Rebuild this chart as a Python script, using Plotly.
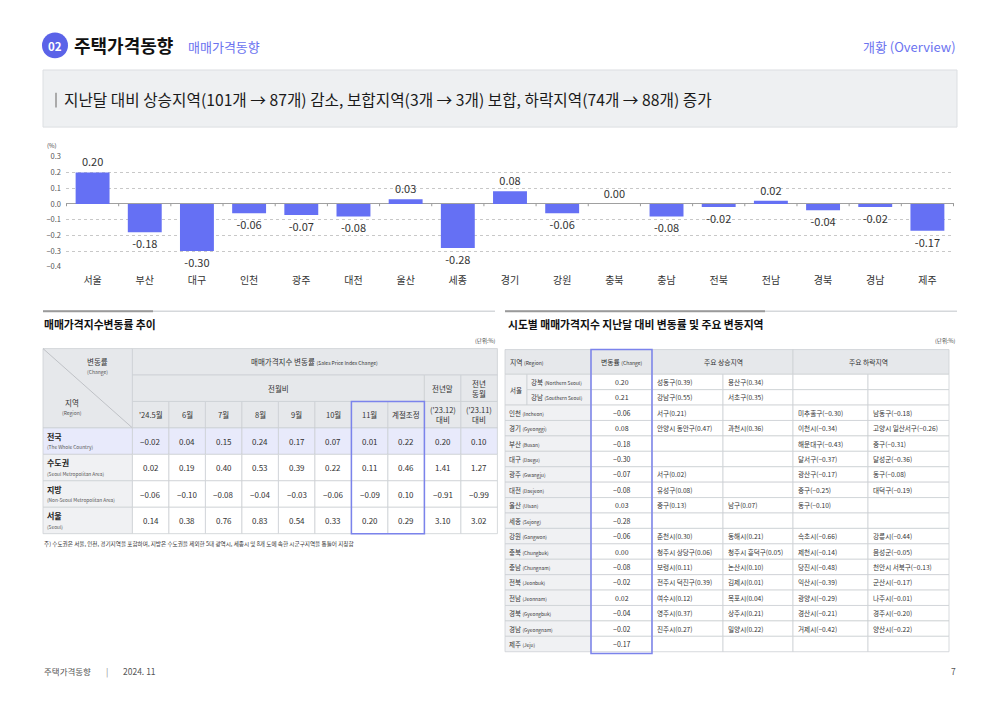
import plotly.graph_objects as go

W, H = 1000, 707
FONT = "Noto Sans CJK KR"
BAR = "#6570F4"
PURPLE = "#5B63E8"
HILITE = "#7B83EC"
GRID_LINE = "#CDD0D4"
HEAD_FILL = "#E6E8EB"
REG_FILL = "#F0F1F3"
NAT_FILL = "#E8EAFB"
TXT = "#333333"

# ---------------- data ----------------
bar_regions = ['서울', '부산', '대구', '인천', '광주', '대전', '울산', '세종', '경기',
               '강원', '충북', '충남', '전북', '전남', '경북', '경남', '제주']
bar_values = [0.20, -0.18, -0.30, -0.06, -0.07, -0.08, 0.03, -0.28, 0.08,
              -0.06, 0.00, -0.08, -0.02, 0.02, -0.04, -0.02, -0.17]
y_ticks = [0.3, 0.2, 0.1, 0.0, -0.1, -0.2, -0.3, -0.4]

months = ["'24.5월", '6월', '7월', '8월', '9월', '10월', '11월', '계절조정',
          "('23.12)<br>대비", "('23.11)<br>대비"]
trend_regions = ['전국', '수도권', '지방', '서울']
trend_regions_en = ['(The Whole Country)', '(Seoul Metropolitan Area)',
                    '(Non-Seoul Metropolitan Area)', '(Seoul)']
trend_whole = [-0.02, 0.04, 0.15, 0.24, 0.17, 0.07, 0.01, 0.22, 0.20, 0.10]
trend_capital = [0.02, 0.19, 0.40, 0.53, 0.39, 0.22, 0.11, 0.46, 1.41, 1.27]
trend_nonseoul = [-0.06, -0.10, -0.08, -0.04, -0.03, -0.06, -0.09, 0.10, -0.91, -0.99]
trend_seoul = [0.14, 0.38, 0.76, 0.83, 0.54, 0.33, 0.20, 0.29, 3.10, 3.02]

sido_regions = ['강북', '강남', '인천', '경기', '부산', '대구', '광주', '대전', '울산', '세종',
                '강원', '충북', '충남', '전북', '전남', '경북', '경남', '제주']
sido_en = ['Northern Seoul', 'Southern Seoul', 'Incheon', 'Gyeonggi', 'Busan', 'Daegu',
           'Gwangju', 'Daejeon', 'Ulsan', 'Sejong', 'Gangwon', 'Chungbuk', 'Chungnam',
           'Jeonbuk', 'Jeonnam', 'Gyeongbuk', 'Gyeongnam', 'Jeju']
sido_change = [0.20, 0.21, -0.06, 0.08, -0.18, -0.30, -0.07, -0.08, 0.03, -0.28,
               -0.06, 0.00, -0.08, -0.02, 0.02, -0.04, -0.02, -0.17]
rise_1 = ['성동구(0.39)', '강남구(0.55)', '서구(0.21)', '안양시 동안구(0.47)', '', '',
          '서구(0.02)', '유성구(0.08)', '중구(0.13)', '', '춘천시(0.30)', '청주시 상당구(0.06)',
          '보령시(0.11)', '전주시 덕진구(0.39)', '여수시(0.12)', '영주시(0.37)', '진주시(0.27)', '']
rise_2 = ['용산구(0.34)', '서초구(0.35)', '', '과천시(0.36)', '', '', '', '', '남구(0.07)', '',
          '동해시(0.21)', '청주시 흥덕구(0.05)', '논산시(0.10)', '김제시(0.01)', '목포시(0.04)',
          '상주시(0.21)', '밀양시(0.22)', '']
fall_1 = ['', '', '미추홀구(−0.30)', '이천시(−0.34)', '해운대구(−0.43)', '달서구(−0.37)',
          '광산구(−0.17)', '중구(−0.25)', '동구(−0.10)', '', '속초시(−0.66)', '제천시(−0.14)',
          '당진시(−0.48)', '익산시(−0.39)', '광양시(−0.29)', '경산시(−0.21)', '거제시(−0.42)', '']
fall_2 = ['', '', '남동구(−0.18)', '고양시 일산서구(−0.26)', '중구(−0.31)', '달성군(−0.36)',
          '동구(−0.08)', '대덕구(−0.19)', '', '', '강릉시(−0.44)', '음성군(−0.05)',
          '천안시 서북구(−0.13)', '군산시(−0.17)', '나주시(−0.01)', '경주시(−0.20)', '양산시(−0.22)', '']


def fmt(v):
    return f"{v:.2f}".replace('-', '−')


def px(x):
    return x / W


def py(y):
    return 1 - y / H


shapes = []
ann = []


def text(t, x, y, size=8, color=TXT, xanchor='center', xref='paper', yref='paper', bold=False):
    if bold:
        t = f"<b>{t}</b>"
    ann.append(dict(text=t, x=x, y=y, xref=xref, yref=yref, showarrow=False,
                    xanchor=xanchor, yanchor='middle', align=xanchor if xanchor != 'center' else 'center',
                    borderpad=0, font=dict(size=size, color=color, family=FONT)))


def ptext(t, x, y, **kw):
    text(t, px(x), py(y), **kw)


def rect(x0, x1, y0, y1, fill, xref='paper', yref='paper', line=GRID_LINE, lw=0.8):
    shapes.append(dict(type='rect', xref=xref, yref=yref, x0=x0, x1=x1, y0=y0, y1=y1,
                       fillcolor=fill, line=dict(color=line, width=lw), layer='above'))


def pline(x0, y0, x1, y1, color, width):
    shapes.append(dict(type='line', xref='paper', yref='paper', x0=px(x0), x1=px(x1),
                       y0=py(y0), y1=py(y1), line=dict(color=color, width=width), layer='above'))


fig = go.Figure()

# ---------------- header ----------------
shapes.append(dict(type='circle', xref='paper', yref='paper', x0=px(42), x1=px(68),
                   y0=py(53), y1=py(27), fillcolor=PURPLE, line=dict(width=0)))
ptext('<b>02</b>', 55, 40.5, size=11.5, color='white')
ptext('주택가격동향', 73, 40, size=18, color='#111111', xanchor='left', bold=True)
ptext('매매가격동향', 187, 41, size=13, color='#6B73F0', xanchor='left')
ptext('개황 (Overview)', 957, 41, size=13, color='#6B73F0', xanchor='right')

rect(px(43), px(957), py(123), py(65), '#EEF0F2', line='#DCDFE2', lw=1)
pline(56, 88, 56, 103, '#AAAAAA', 2)
ptext('지난달 대비 상승지역(101개 → 87개) 감소, 보합지역(3개 → 3개) 보합, 하락지역(74개 → 88개) 증가',
      63, 95, size=15.7, color='#1A1A1A', xanchor='left')

# ---------------- bar chart ----------------
fig.add_trace(go.Bar(x=bar_regions, y=bar_values, marker=dict(color=BAR, line=dict(width=0)),
                     width=0.65, texttemplate='%{y:.2f}', textposition='outside',
                     textfont=dict(size=11, color=TXT, family=FONT), cliponaxis=False,
                     constraintext='none', hoverinfo='skip', xaxis='x', yaxis='y'))
for i in range(len(bar_regions) + 1):
    shapes.append(dict(type='line', xref='x', yref='y', x0=i - 0.5, x1=i - 0.5, y0=0, y1=-0.015,
                       line=dict(color='#999999', width=1), layer='above'))
ptext('(%)', 52, 142, size=6, color='#444444')

# ---------------- section titles ----------------
pline(43, 310, 495, 310, '#D5D8DB', 1.5)
pline(43, 310, 153, 310, '#9A9A9A', 2)
pline(505, 310, 957, 310, '#D5D8DB', 1.5)
pline(505, 310, 765, 310, '#9A9A9A', 2)
ptext('매매가격지수변동률 추이', 43, 323, size=10.8, color='#111111', xanchor='left', bold=True)
ptext('시도별 매매가격지수 지난달 대비 변동률 및 주요 변동지역', 507, 323, size=10.8,
      color='#111111', xanchor='left', bold=True)
ptext('(단위:%)', 497, 340, size=5.5, color='#444444', xanchor='right')
ptext('(단위:%)', 957, 340, size=5.5, color='#444444', xanchor='right')

# ---------------- left table (axes x2/y2, units = columns/rows) ----------------
LX, LY = 'x2', 'y2'
lab_w = 2.45
col_edges = [lab_w + j for j in range(len(months) + 1)]
n_hdr = 3
trend_rows = [trend_whole, trend_capital, trend_nonseoul, trend_seoul]
lt_px_unit_x, lt_px_unit_y = 36.5, 26.86
lt_x0, lt_y0 = 43, 348
lt_xr = [-0.1, col_edges[-1] + 0.1]
lt_yr = [n_hdr + len(trend_rows) + 0.1, -0.1]


def lrect(x0, x1, y0, y1, fill, **kw):
    rect(x0, x1, y0, y1, fill, xref=LX, yref=LY, **kw)


def ltext(t, x, y, **kw):
    text(t, x, y, xref=LX, yref=LY, **kw)


lrect(0, lab_w, 0, n_hdr, HEAD_FILL)
shapes.append(dict(type='line', xref=LX, yref=LY, x0=0, y0=0, x1=lab_w, y1=n_hdr,
                   line=dict(color='#B5B8BC', width=0.8), layer='above'))
ltext('변동률', 1.5, 0.5, size=7.5)
ltext('(Change)', 1.5, 0.88, size=5, color='#555555')
ltext('지역', 0.8, 2.05, size=7.5)
ltext('(Region)', 0.8, 2.45, size=5, color='#555555')

lrect(col_edges[0], col_edges[-1], 0, 1, HEAD_FILL)
ltext("매매가격지수 변동률 <span style='font-size:5px'>(Sales Price Index Change)</span>",
      (col_edges[0] + col_edges[-1]) / 2, 0.5, size=7.5)
lrect(col_edges[0], col_edges[8], 1, 2, HEAD_FILL)
ltext('전월비', (col_edges[0] + col_edges[8]) / 2, 1.5, size=7.5)
lrect(col_edges[8], col_edges[9], 1, 2, HEAD_FILL)
ltext('전년말', (col_edges[8] + col_edges[9]) / 2, 1.5, size=7.5)
lrect(col_edges[9], col_edges[10], 1, 2, HEAD_FILL)
ltext('전년<br>동월', (col_edges[9] + col_edges[10]) / 2, 1.5, size=7.5)
for j, m in enumerate(months):
    lrect(col_edges[j], col_edges[j + 1], 2, 3, HEAD_FILL)
    ltext(m, (col_edges[j] + col_edges[j + 1]) / 2, 2.5, size=7.5)

for i, (reg, en, vals) in enumerate(zip(trend_regions, trend_regions_en, trend_rows)):
    r0 = n_hdr + i
    lrect(0, lab_w, r0, r0 + 1, NAT_FILL if i == 0 else REG_FILL)
    ltext(reg, 0.08, r0 + 0.32, size=8, xanchor='left', bold=True, color='#222222')
    ltext(en, 0.08, r0 + 0.74, size=4.8, xanchor='left', color='#555555')
    for j, v in enumerate(vals):
        lrect(col_edges[j], col_edges[j + 1], r0, r0 + 1, NAT_FILL if i == 0 else 'white')
        ltext(fmt(v), (col_edges[j] + col_edges[j + 1]) / 2, r0 + 0.5, size=8)

lrect(col_edges[6], col_edges[8], 2, n_hdr + len(trend_rows), 'rgba(0,0,0,0)', line=HILITE, lw=1.5)
ptext('주) 수도권은 서울, 인천, 경기지역을 포함하며, 지방은 수도권을 제외한 5대 광역시, 세종시 및 8개 도에 속한 시군구지역을 통틀어 지칭함',
      43, 547, size=5.6, color='#333333', xanchor='left')

# ---------------- right table (axes x3/y3) ----------------
RX, RY = 'x3', 'y3'
rwidths = [2.2, 6.4, 6.1, 7.1, 7.0, 7.5, 8.1]
redges = [0]
for w_ in rwidths:
    redges.append(redges[-1] + w_)
hdr_h = 1.6
rt_px_unit_x, rt_px_unit_y = 10.0, 15.66
rt_x0, rt_y0 = 505, 349
rt_xr = [-0.3, redges[-1] + 0.3]
rt_yr = [hdr_h + len(sido_regions) + 0.25, -0.2]


def rrect(x0, x1, y0, y1, fill, **kw):
    rect(x0, x1, y0, y1, fill, xref=RX, yref=RY, **kw)


def rtext(t, x, y, **kw):
    text(t, x, y, xref=RX, yref=RY, **kw)


rrect(redges[0], redges[2], 0, hdr_h, HEAD_FILL)
rtext("지역 <span style='font-size:5px'>(Region)</span>", redges[1], hdr_h / 2, size=6.8)
rrect(redges[2], redges[3], 0, hdr_h, HEAD_FILL)
rtext("변동률 <span style='font-size:5px'>(Change)</span>", (redges[2] + redges[3]) / 2, hdr_h / 2, size=6.8)
rrect(redges[3], redges[5], 0, hdr_h, HEAD_FILL)
rtext('주요 상승지역', redges[4], hdr_h / 2, size=6.8)
rrect(redges[5], redges[7], 0, hdr_h, HEAD_FILL)
rtext('주요 하락지역', redges[6], hdr_h / 2, size=6.8)

rrect(redges[0], redges[1], hdr_h, hdr_h + 2, REG_FILL)
rtext('서울', (redges[0] + redges[1]) / 2, hdr_h + 1, size=6.5)
for i, reg in enumerate(sido_regions):
    r0 = hdr_h + i
    label = f"{reg} <span style='font-size:4.8px'>({sido_en[i]})</span>"
    if i < 2:
        rrect(redges[1], redges[2], r0, r0 + 1, REG_FILL)
        rtext(label, redges[1] + 0.3, r0 + 0.5, size=6.5, xanchor='left')
    else:
        rrect(redges[0], redges[2], r0, r0 + 1, REG_FILL)
        rtext(label, redges[0] + 0.3, r0 + 0.5, size=6.5, xanchor='left')
    rrect(redges[2], redges[3], r0, r0 + 1, 'white')
    rtext(fmt(sido_change[i]), (redges[2] + redges[3]) / 2, r0 + 0.5, size=7)
    for k, col in enumerate([rise_1, rise_2, fall_1, fall_2]):
        rrect(redges[3 + k], redges[4 + k], r0, r0 + 1, 'white')
        if col[i]:
            rtext(col[i], redges[3 + k] + 0.4, r0 + 0.5, size=6.6, xanchor='left')

rrect(redges[2], redges[3], 0, hdr_h + len(sido_regions) + 0.12, 'rgba(0,0,0,0)', line=HILITE, lw=1.5)

# ---------------- footer ----------------
ptext('주택가격동향', 43, 676, size=8.5, color='#555555', xanchor='left')
ptext('|', 107, 676, size=8.5, color='#888888')
ptext('2024. 11', 122, 676, size=8.5, color='#555555', xanchor='left')
ptext('7', 957, 676, size=8.5, color='#555555', xanchor='right')

# invisible anchors for table axes
fig.add_trace(go.Scatter(x=[0], y=[0], xaxis='x2', yaxis='y2', mode='markers',
                         marker=dict(opacity=0), hoverinfo='skip'))
fig.add_trace(go.Scatter(x=[0], y=[0], xaxis='x3', yaxis='y3', mode='markers',
                         marker=dict(opacity=0), hoverinfo='skip'))


def dom_x(x0px, unit, r):
    return [px(x0px + r[0] * unit), px(x0px + r[1] * unit)]


def dom_y(y0px, unit, r):
    top = y0px + r[1] * unit
    bottom = y0px + r[0] * unit
    return [py(bottom), py(top)]


hidden = dict(visible=False, fixedrange=True)
fig.update_layout(
    width=W, height=H, autosize=False,
    margin=dict(l=0, r=0, t=0, b=0, pad=0),
    paper_bgcolor='white', plot_bgcolor='white',
    showlegend=False, bargap=0.35,
    font=dict(family=FONT, color=TXT),
    xaxis=dict(domain=[px(66), px(954)], showgrid=False, showline=False, ticks='',
               tickfont=dict(size=10, color=TXT, family=FONT), ticklabelstandoff=6,
               fixedrange=True, anchor='y'),
    yaxis=dict(domain=[py(265), py(153)], range=[-0.4001, 0.3001], tickvals=y_ticks,
               tickformat='.1f', showgrid=True, gridcolor='#C8C8C8', griddash='dot',
               gridwidth=1, zeroline=True, zerolinecolor='#A0A0A0', zerolinewidth=1,
               showline=False, ticks='', tickfont=dict(size=7.5, color='#555555', family=FONT),
               ticklabelstandoff=4, fixedrange=True, anchor='x'),
    xaxis2=dict(domain=dom_x(lt_x0, lt_px_unit_x, lt_xr), range=lt_xr, anchor='y2', **hidden),
    yaxis2=dict(domain=dom_y(lt_y0, lt_px_unit_y, lt_yr), range=lt_yr, anchor='x2', **hidden),
    xaxis3=dict(domain=dom_x(rt_x0, rt_px_unit_x, rt_xr), range=rt_xr, anchor='y3', **hidden),
    yaxis3=dict(domain=dom_y(rt_y0, rt_px_unit_y, rt_yr), range=rt_yr, anchor='x3', **hidden),
    shapes=shapes, annotations=ann,
)

fig.write_html("out.html")
